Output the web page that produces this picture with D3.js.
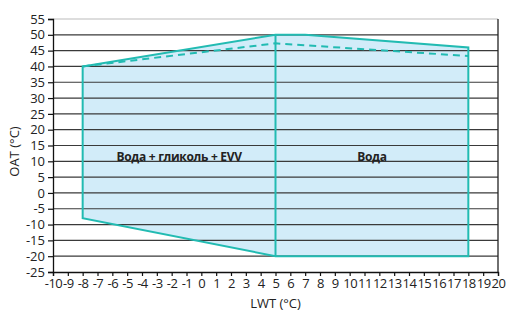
<!DOCTYPE html>
<html>
<head>
<meta charset="utf-8">
<script src="https://cdn.jsdelivr.net/npm/d3@7"></script>
<style>
  body { margin: 0; background: #fff; }
  text { font-family: "Open Sans", sans-serif; fill: #222; }
</style>
</head>
<body>
<svg id="chart" width="513" height="313"></svg>
<script>
// envelope outline, LWT / OAT
const envelope = [[-8, 40], [5, 50], [7, 50], [18, 46], [18, -20], [5, -20], [-8, -8]];
const dashedLimit = [[-8, 40], [5, 47.3], [18, 43.3]];
const divider = [[5, 50], [5, -20]];
const xTicks = d3.range(-10, 21, 1);
const yTicks = d3.range(-25, 56, 5);
const regionLabels = [
  { x: -1.5, y: 11, text: "Вода + гликоль + EVV" },
  { x: 11.5, y: 11, text: "Вода" }
];

const svg = d3.select('#chart');
const plotLeft = 53, plotRight = 498, plotTop = 19, plotBottom = 272;

const x = d3.scaleLinear().domain([-10, 20]).range([plotLeft, plotRight]);
const y = d3.scaleLinear().domain([-25, 55]).range([plotBottom, plotTop]);

const line = d3.line().x(d => x(d[0])).y(d => y(d[1]));
const plain = d => String(d); // keep ascii hyphen like the source

// fill first so grid shows over it
svg.append('path')
  .attr('d', line(envelope) + 'Z')
  .attr('fill', '#d2ecf9');

// horizontal grid
svg.append('g')
  .selectAll('line')
  .data(yTicks.filter(v => v > -25))
  .join('line')
  .attr('x1', plotLeft).attr('x2', plotRight)
  .attr('y1', d => y(d)).attr('y2', d => y(d))
  .attr('stroke', d => d == 55 ? '#bbb' : '#3a3a3a')
  .attr('stroke-width', 1.2);

// right border
svg.append('line')
  .attr('x1', plotRight).attr('x2', plotRight)
  .attr('y1', plotTop).attr('y2', plotBottom)
  .attr('stroke', '#222').attr('stroke-width', 1.3);

// axes
const yAxis = svg.append('g')
  .attr('transform', `translate(${plotLeft},0)`)
  .call(d3.axisLeft(y).tickValues(yTicks).tickFormat(plain).tickSize(5).tickPadding(3));
const xAxis = svg.append('g')
  .attr('transform', `translate(0,${plotBottom})`)
  .call(d3.axisBottom(x).tickValues(xTicks).tickFormat(plain).tickSize(4).tickPadding(3));

[yAxis, xAxis].forEach(g => {
  g.select('.domain').attr('stroke', '#111').attr('stroke-width', 1.3);
  g.selectAll('.tick line').attr('stroke', '#111').attr('stroke-width', 1.2);
  g.selectAll('.tick text')
    .style('font-family', '"Open Sans", sans-serif')
    .style('font-size', '13px')
    .attr('fill', '#222');
});
xAxis.selectAll('.tick text').style('letter-spacing', '-0.5px');

// teal outline
svg.append('path')
  .attr('d', line(envelope) + 'Z')
  .attr('fill', 'none')
  .attr('stroke', '#22bbb2')
  .attr('stroke-width', 2);

svg.append('path')
  .attr('d', line(divider))
  .attr('fill', 'none')
  .attr('stroke', '#22bbb2')
  .attr('stroke-width', 2);

svg.append('path')
  .attr('d', line(dashedLimit))
  .attr('fill', 'none')
  .attr('stroke', '#22bbb2')
  .attr('stroke-width', 2)
  .attr('stroke-dasharray', '7,5');

// region labels
svg.selectAll('.region')
  .data(regionLabels)
  .join('text')
  .attr('class', 'region')
  .attr('x', d => x(d.x))
  .attr('y', d => y(d.y))
  .attr('text-anchor', 'middle')
  .attr('dominant-baseline', 'middle')
  .style('font-size', '12px')
  .style('font-weight', 'bold')
  .style('letter-spacing', '-0.3px')
  .text(d => d.text);

// axis titles
svg.append('text')
  .attr('transform', `translate(16,${(plotTop + plotBottom) / 2 + 6}) rotate(-90)`)
  .attr('text-anchor', 'middle')
  .attr('dominant-baseline', 'middle')
  .style('font-size', '13px')
  .text('OAT (°C)');

svg.append('text')
  .attr('x', (plotLeft + plotRight) / 2)
  .attr('y', 305)
  .attr('text-anchor', 'middle')
  .attr('dominant-baseline', 'middle')
  .style('font-size', '13px')
  .text('LWT (°C)');
</script>
</body>
</html>
